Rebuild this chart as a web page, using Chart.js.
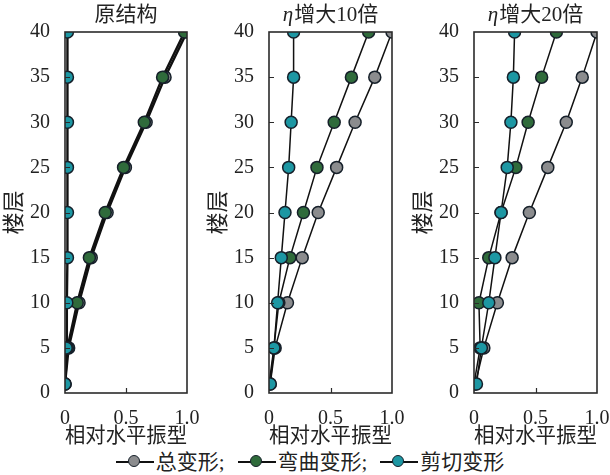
<!DOCTYPE html>
<html>
<head>
<meta charset="utf-8">
<script src="https://cdn.jsdelivr.net/npm/chart.js@4.4.1/dist/chart.umd.min.js"></script>
<style>
  html, body { margin: 0; padding: 0; background: #fff; }
  #page { position: relative; width: 610px; height: 475px; overflow: hidden;
          font-family: "Liberation Serif", "Noto Sans CJK SC", serif; color: #222; }
  .panel { position: absolute; top: 0; }
  .ptitle { position: absolute; top: 2px; font-size: 21px; line-height: 24px;
            white-space: nowrap; transform: translateX(-50%); }
  .ptitle i { font-style: italic; margin-right: 1px; }
  #legend { position: absolute; left: 0; width: 620px; top: 449px; display: flex;
            justify-content: center; align-items: center; font-size: 21px;
            line-height: 26px; white-space: nowrap; }
  .item { display: flex; align-items: center; }
  .item + .item { margin-left: 13px; }
  .mk { display: inline-block; position: relative; width: 38px; height: 14px; margin-right: 2px; }
  .mk::before { content: ""; position: absolute; left: 0; right: 0; top: 6px; height: 2px; background: #111; }
  .mk span { position: absolute; left: 12px; top: 0px; width: 10px; height: 10px;
             border: 1.5px solid #16202a; border-radius: 50%; }
</style>
</head>
<body>
<div id="page">
  <canvas id="c0" class="panel" width="200" height="449" style="left:0px"></canvas>
  <canvas id="c1" class="panel" width="200" height="449" style="left:204px"></canvas>
  <canvas id="c2" class="panel" width="201" height="449" style="left:409px"></canvas>
  <div id="titles"></div>
  <div id="legend"></div>
</div>
<script>
// Floor levels at which the mode shape is sampled
const floors = [1, 5, 10, 15, 20, 25, 30, 35, 40];

// Axis ticks
const xTickValues = [0, 0.5, 1];
const xTickLabels = ['0', '0.5', '1.0'];
const yTickValues = [0, 5, 10, 15, 20, 25, 30, 35, 40];

// Panel headings and series names
const panelTitles = ['原结构', 'η增大10倍', 'η增大20倍'];
const seriesNames = ['总变形', '弯曲变形', '剪切变形'];
const seriesColors = ['#8b8c8e', '#2f6b3b', '#1d97a3'];

// Original structure
const totalOrig   = [0.00, 0.03, 0.115, 0.215, 0.345, 0.495, 0.665, 0.82, 1.00];
const bendOrig    = [0.00, 0.02, 0.10, 0.20, 0.33, 0.48, 0.65, 0.80, 0.98];
const shearOrig   = [0.00, 0.01, 0.015, 0.02, 0.02, 0.02, 0.02, 0.02, 0.02];

// eta x10
const totalEta10  = [0.01, 0.05, 0.15, 0.27, 0.40, 0.55, 0.70, 0.86, 1.00];
const bendEta10   = [0.00, 0.04, 0.08, 0.17, 0.28, 0.39, 0.53, 0.67, 0.81];
const shearEta10  = [0.01, 0.04, 0.07, 0.10, 0.13, 0.16, 0.18, 0.20, 0.20];

// eta x20
const totalEta20  = [0.01, 0.08, 0.19, 0.31, 0.45, 0.60, 0.75, 0.88, 1.00];
const bendEta20   = [0.00, 0.05, 0.04, 0.12, 0.22, 0.34, 0.44, 0.55, 0.67];
const shearEta20  = [0.02, 0.06, 0.12, 0.17, 0.22, 0.27, 0.30, 0.32, 0.33];

const panels = [
  { series: [totalOrig, bendOrig, shearOrig], lineWidth: 2.4 },
  { series: [totalEta10, bendEta10, shearEta10], lineWidth: 1.5 },
  { series: [totalEta20, bendEta20, shearEta20], lineWidth: 1.5 }
];

const FONT_FAMILY = '"Liberation Serif", "Noto Sans CJK SC", serif';
const INK = '#222';

// Closed frame around the plot area plus short inward tick marks
const framePlugin = {
  id: 'frame',
  afterDatasetsDraw(chart) {
    const { ctx, chartArea: a, scales: { x, y } } = chart;
    ctx.save();
    ctx.strokeStyle = '#2b2b2b';
    ctx.lineWidth = 1.6;
    ctx.strokeRect(a.left, a.top, a.right - a.left, a.bottom - a.top);
    ctx.lineWidth = 1.2;
    ctx.beginPath();
    x.ticks.forEach(t => {
      if (t.value > x.min && t.value < x.max) {
        const px = Math.round(x.getPixelForValue(t.value)) + 0.5;
        ctx.moveTo(px, a.bottom);
        ctx.lineTo(px, a.bottom - 5);
      }
    });
    y.ticks.forEach(t => {
      if (t.value > y.min && t.value < y.max) {
        const py = Math.round(y.getPixelForValue(t.value)) + 0.5;
        ctx.moveTo(a.left, py);
        ctx.lineTo(a.left + 5, py);
      }
    });
    ctx.stroke();
    ctx.restore();
  }
};

function makeDataset(idx, values, lineWidth) {
  return {
    label: seriesNames[idx],
    data: floors.map((f, i) => ({ x: values[i], y: f })),
    showLine: true,
    tension: 0,
    borderColor: '#111',
    borderWidth: lineWidth,
    backgroundColor: seriesColors[idx],
    pointBackgroundColor: seriesColors[idx],
    pointBorderColor: '#16202a',
    pointBorderWidth: 1.5,
    pointRadius: 6,
    pointHoverRadius: 6,
    order: 3 - idx
  };
}

panels.forEach((p, k) => {
  new Chart(document.getElementById('c' + k), {
    type: 'scatter',
    data: { datasets: p.series.map((v, i) => makeDataset(i, v, p.lineWidth)) },
    options: {
      responsive: false,
      animation: false,
      devicePixelRatio: 1,
      layout: { padding: { top: 32, right: k === 1 ? 12 : 13, bottom: 0, left: 0 } },
      plugins: { legend: { display: false }, tooltip: { enabled: false }, title: { display: false } },
      scales: {
        x: {
          type: 'linear', min: 0, max: 1,
          afterBuildTicks: s => { s.ticks = xTickValues.map(v => ({ value: v })); },
          afterFit: s => { s.height = 56; s.paddingLeft = 0; s.paddingRight = 0; },
          grid: { display: false },
          border: { display: false },
          ticks: {
            padding: 6, color: INK,
            font: { family: FONT_FAMILY, size: 20 },
            callback: (v, i) => xTickLabels[i],
            maxRotation: 0
          },
          title: {
            display: true, text: '相对水平振型', color: INK,
            font: { family: FONT_FAMILY, size: 21, lineHeight: 1.2 },
            padding: { top: 0, bottom: 0 }
          }
        },
        y: {
          type: 'linear', min: 0, max: 40,
          afterBuildTicks: s => { s.ticks = yTickValues.map(v => ({ value: v })); },
          afterFit: s => { s.width = 65; },
          grid: { display: false },
          border: { display: false },
          ticks: {
            padding: 7, color: INK,
            font: { family: FONT_FAMILY, size: 20 }
          },
          title: {
            display: true, text: '楼层', color: INK,
            font: { family: FONT_FAMILY, size: 22, lineHeight: 1.2 },
            padding: { top: 2, bottom: 0 }
          }
        }
      }
    },
    plugins: [framePlugin]
  });
});

// Panel headings, centred over each plot area
const titleBox = document.getElementById('titles');
Object.values(Chart.instances).forEach(ch => {
  const canvas = ch.canvas;
  const left = parseFloat(canvas.style.left);
  const cx = left + (ch.chartArea.left + ch.chartArea.right) / 2;
  const idx = parseInt(canvas.id.slice(1), 10);
  const div = document.createElement('div');
  div.className = 'ptitle';
  div.style.left = cx + 'px';
  const t = panelTitles[idx];
  if (t.startsWith('η')) {
    div.innerHTML = '<i>η</i>' + t.slice(1);
  } else {
    div.textContent = t;
  }
  titleBox.appendChild(div);
});

// Legend row
const legend = document.getElementById('legend');
seriesNames.forEach((name, i) => {
  const item = document.createElement('div');
  item.className = 'item';
  const mk = document.createElement('span');
  mk.className = 'mk';
  const dot = document.createElement('span');
  dot.style.background = seriesColors[i];
  mk.appendChild(dot);
  item.appendChild(mk);
  const txt = document.createElement('span');
  txt.textContent = name + (i < seriesNames.length - 1 ? ';' : '');
  item.appendChild(txt);
  legend.appendChild(item);
});
</script>
</body>
</html>
